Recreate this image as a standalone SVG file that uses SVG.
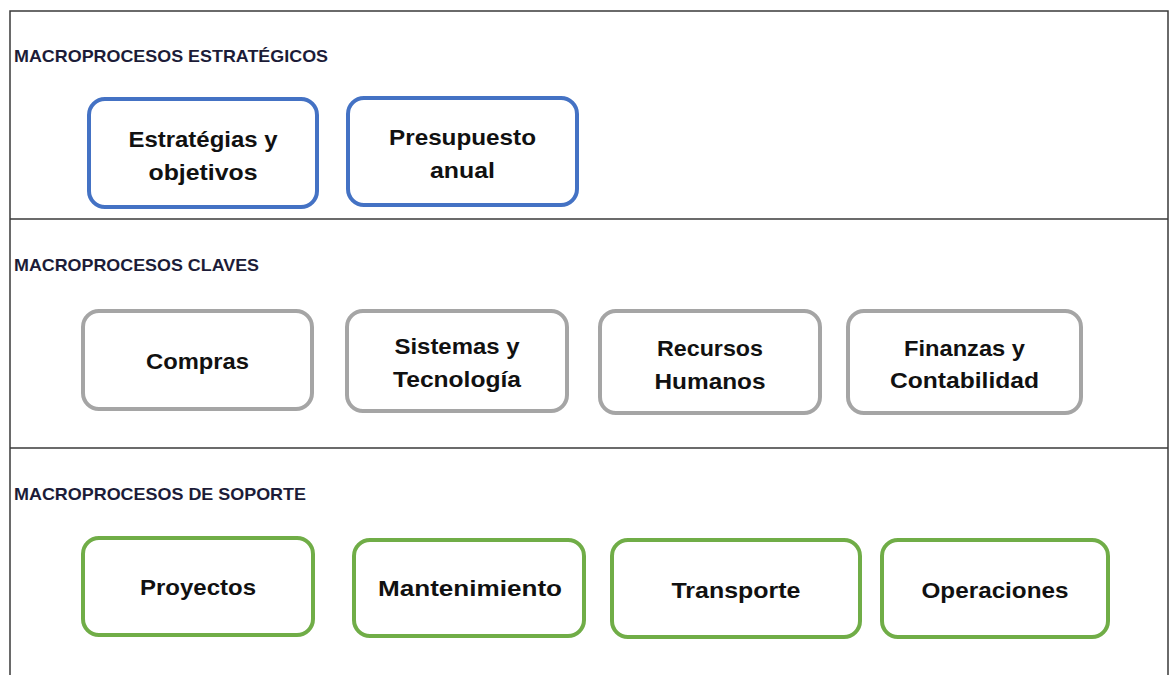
<svg xmlns="http://www.w3.org/2000/svg" width="1171" height="675" viewBox="0 0 1171 675">
<style>
.frame{fill:none;stroke:#3a3a3a;stroke-width:1.5}
.hd{font-family:"Liberation Sans",Arial,sans-serif;font-weight:bold;font-size:17px;fill:#1c1c38}
.box{fill:#fff;stroke-width:4}
.b{stroke:#4472C4}
.g{stroke:#A5A5A5}
.gr{stroke:#70AD47}
.t{font-family:"Liberation Sans",Arial,sans-serif;font-weight:bold;font-size:22px;fill:#111;text-anchor:middle}
</style>
<rect width="1171" height="675" fill="#fff"/>
<g id="frame">
<path class="frame" d="M10,675 V11 H1168 V675"/>
<line class="frame" x1="10" y1="219" x2="1168" y2="219"/>
<line class="frame" x1="10" y1="448" x2="1168" y2="448"/>
</g>
<g id="headings">
<text class="hd" x="14" y="62" textLength="314" lengthAdjust="spacingAndGlyphs">MACROPROCESOS ESTRATÉGICOS</text>
<text class="hd" x="14" y="271" textLength="245" lengthAdjust="spacingAndGlyphs">MACROPROCESOS CLAVES</text>
<text class="hd" x="14" y="500" textLength="292" lengthAdjust="spacingAndGlyphs">MACROPROCESOS DE SOPORTE</text>
</g>
<g id="estrategias">
<rect class="box b" x="89" y="99" width="228" height="108" rx="16"/>
<text class="t" x="203" y="147" textLength="149" lengthAdjust="spacingAndGlyphs">Estratégias y</text>
<text class="t" x="203" y="180" textLength="109" lengthAdjust="spacingAndGlyphs">objetivos</text>
</g>
<g id="presupuesto">
<rect class="box b" x="348" y="98" width="229" height="107" rx="16"/>
<text class="t" x="462.5" y="145" textLength="147" lengthAdjust="spacingAndGlyphs">Presupuesto</text>
<text class="t" x="462.5" y="178" textLength="65" lengthAdjust="spacingAndGlyphs">anual</text>
</g>
<g id="compras">
<rect class="box g" x="83" y="311" width="229" height="98" rx="16"/>
<text class="t" x="197.5" y="369" textLength="103" lengthAdjust="spacingAndGlyphs">Compras</text>
</g>
<g id="sistemas">
<rect class="box g" x="347" y="311" width="220" height="100" rx="16"/>
<text class="t" x="457" y="354" textLength="125" lengthAdjust="spacingAndGlyphs">Sistemas y</text>
<text class="t" x="457" y="387" textLength="128" lengthAdjust="spacingAndGlyphs">Tecnología</text>
</g>
<g id="recursos">
<rect class="box g" x="600" y="311" width="220" height="102" rx="16"/>
<text class="t" x="710" y="356" textLength="106" lengthAdjust="spacingAndGlyphs">Recursos</text>
<text class="t" x="710" y="389" textLength="111" lengthAdjust="spacingAndGlyphs">Humanos</text>
</g>
<g id="finanzas">
<rect class="box g" x="848" y="311" width="233" height="102" rx="16"/>
<text class="t" x="964.5" y="356" textLength="121" lengthAdjust="spacingAndGlyphs">Finanzas y</text>
<text class="t" x="964.5" y="388" textLength="149" lengthAdjust="spacingAndGlyphs">Contabilidad</text>
</g>
<g id="proyectos">
<rect class="box gr" x="83" y="538" width="230" height="97" rx="16"/>
<text class="t" x="198" y="595" textLength="116" lengthAdjust="spacingAndGlyphs">Proyectos</text>
</g>
<g id="mantenimiento">
<rect class="box gr" x="354" y="540" width="230" height="96" rx="16"/>
<text class="t" x="470" y="596" textLength="184" lengthAdjust="spacingAndGlyphs">Mantenimiento</text>
</g>
<g id="transporte">
<rect class="box gr" x="612" y="540" width="248" height="97" rx="16"/>
<text class="t" x="736" y="598" textLength="129" lengthAdjust="spacingAndGlyphs">Transporte</text>
</g>
<g id="operaciones">
<rect class="box gr" x="882" y="540" width="226" height="97" rx="16"/>
<text class="t" x="995" y="598" textLength="147" lengthAdjust="spacingAndGlyphs">Operaciones</text>
</g>
<g id="connectors"></g>
</svg>
